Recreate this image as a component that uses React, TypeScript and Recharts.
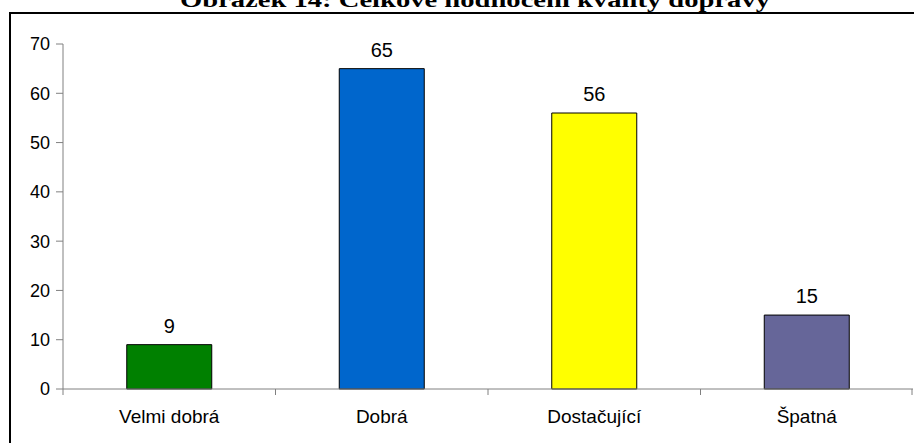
import { BarChart, Bar, XAxis, YAxis, Cell, LabelList } from "recharts"

const categories = ["Velmi dobrá", "Dobrá", "Dostačující", "Špatná"]
const values = [9, 65, 56, 15]
const colors = ["#008000", "#0066CC", "#FFFF00", "#666699"]
const yTicks = [0, 10, 20, 30, 40, 50, 60, 70]
const title = "Obrázek 14: Celkové hodnocení kvality dopravy"

const data = categories.map((name, i) => ({ name, value: values[i] }))

const font = "'Liberation Sans', Arial, sans-serif"

// category label + tick marks on the category boundaries (Excel style)
function CategoryTick(props: any) {
  const { x, y, payload, index, width, visibleTicksCount } = props
  const band = width / visibleTicksCount
  const last = index === visibleTicksCount - 1
  return (
    <g>
      <line x1={x - band / 2} x2={x - band / 2} y1={y} y2={y + 6} stroke="#808080" />
      {last && <line x1={x + band / 2 - 1} x2={x + band / 2 - 1} y1={y} y2={y + 6} stroke="#808080" />}
      <text x={x} y={y + 34} textAnchor="middle" fill="#000" fontSize={19} fontFamily={font}>
        {payload.value}
      </text>
    </g>
  )
}

export default function App() {
  return (
    <div style={{ position: "absolute", left: 0, top: 0, width: 914, height: 443, background: "#fff", overflow: "hidden" }}>
      <div
        style={{
          position: "absolute",
          left: 9,
          top: 12,
          width: 920,
          height: 440,
          border: "2px solid #000",
          boxSizing: "border-box",
        }}
      />
      <svg style={{ position: "absolute", left: 0, top: 0 }} width={914} height={20}>
        <text
          x={180}
          y={7}
          textLength={590}
          lengthAdjust="spacingAndGlyphs"
          fontFamily="'Liberation Serif', 'Times New Roman', serif"
          fontWeight="bold"
          fontSize={22}
          fill="#000"
        >
          {title}
        </text>
      </svg>
      <div style={{ position: "absolute", left: 0, top: 0 }}>
        <BarChart
          width={914}
          height={443}
          data={data}
          margin={{ top: 44, right: 1, left: 0, bottom: 0 }}
          barCategoryGap="30%"
        >
          <XAxis
            dataKey="name"
            tickLine={false}
            tickSize={0}
            tickMargin={0}
            axisLine={{ stroke: "#808080" }}
            height={54}
            tick={<CategoryTick />}
          />
          <YAxis
            domain={[0, 70]}
            ticks={yTicks}
            width={63}
            axisLine={{ stroke: "#808080" }}
            tickLine={{ stroke: "#808080" }}
            tickSize={7}
            tickMargin={6}
            tick={{ fill: "#000", fontSize: 18, fontFamily: font }}
          />
          <Bar dataKey="value" stroke="#000" strokeWidth={1} isAnimationActive={false}>
            {data.map((d, i) => (
              <Cell key={d.name} fill={colors[i]} />
            ))}
            <LabelList dataKey="value" position="top" offset={12} fill="#000" fontSize={20} fontFamily={font} />
          </Bar>
        </BarChart>
      </div>
    </div>
  )
}
